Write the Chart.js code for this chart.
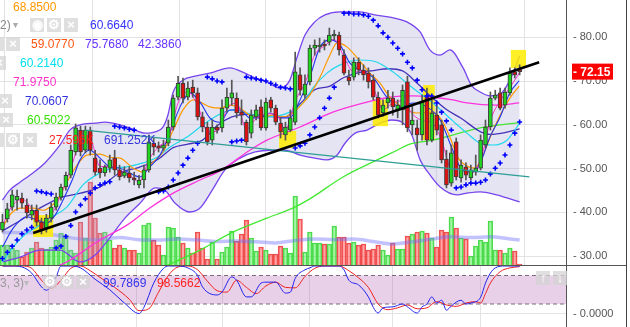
<!DOCTYPE html>
<html lang="en">
<head>
<meta charset="UTF-8">
<title>Price chart</title>
<script src="https://cdn.jsdelivr.net/npm/chart.js"></script>
<style>
  body { margin: 0; width: 630px; height: 327px; position: relative; overflow: hidden; background: #fff;
         font-family: 'Liberation Sans', Arial, sans-serif; }
  #main { position: absolute; left: 0; top: 0; }
  #stoch { position: absolute; left: 0; top: 265px; }
  .t { position: absolute; font-size: 12px; line-height: 14px; white-space: nowrap; }
  .ic { position: absolute; width: 14px; height: 14px; background: rgba(212,212,212,0.75); color: #fff;
        font-size: 13px; line-height: 14px; text-align: center; font-weight: bold; }
  .hl { position: absolute; background: #555; }
</style>
</head>
<body>
<canvas id="main" width="630" height="265"></canvas>
<canvas id="stoch" width="630" height="62"></canvas>
<div class="hl" style="left:0; top:265px; width:627px; height:1px"></div>
<div class="hl" style="left:626px; top:0; width:1px; height:327px; background:#444"></div>

<!-- indicator read-outs -->
<span class="t" style="left:13px; top:0; color:#ff9900">68.8500</span>
<span class="t" style="left:0; top:18px; color:#888">2)</span>
<span class="t" style="left:13px; top:18px; color:#aaa; font-size:10px">&#9662;</span>
<div class="ic" style="left:30px; top:18px">&#9673;</div>
<div class="ic" style="left:47px; top:18px">&#9881;</div>
<div class="ic" style="left:64px; top:18px">&#215;</div>
<span class="t" style="left:90px; top:18px; color:#3333ff">60.6640</span>
<div class="ic" style="left:-10px; top:37px">&#215;</div>
<div class="ic" style="left:6px; top:37px">&#215;</div>
<span class="t" style="left:31px; top:37px; color:#ff5511">59.0770</span>
<span class="t" style="left:85px; top:37px; color:#6633ff">75.7680</span>
<span class="t" style="left:138px; top:37px; color:#6633ff">42.3860</span>
<div class="ic" style="left:-8px; top:56px">&#215;</div>
<span class="t" style="left:20px; top:56px; color:#00e0ee">60.2140</span>
<span class="t" style="left:13px; top:75px; color:#ff33cc">71.9750</span>
<div class="ic" style="left:-2px; top:94px">&#215;</div>
<span class="t" style="left:25px; top:94px; color:#3333dd">70.0607</span>
<div class="ic" style="left:-1px; top:113px">&#215;</div>
<span class="t" style="left:27px; top:113px; color:#33e000">60.5022</span>
<div class="ic" style="left:-10px; top:133px">&#215;</div>
<div class="ic" style="left:6px; top:133px">&#9881;</div>
<div class="ic" style="left:23px; top:133px">&#215;</div>
<span class="t" style="left:49px; top:133px; color:#ff2222">27.596K</span>
<span class="t" style="left:104px; top:133px; color:#3333dd">691.252K</span>

<span class="t" style="left:0; top:276px; color:#999">3, 3)</span>
<span class="t" style="left:24px; top:276px; color:#bbb; font-size:10px">&#9662;</span>
<div class="ic" style="left:43px; top:275px">&#9881;</div>
<div class="ic" style="left:60px; top:275px">&#9881;</div>
<div class="ic" style="left:76px; top:275px">&#215;</div>
<span class="t" style="left:103px; top:276px; color:#3333ee">99.7869</span>
<span class="t" style="left:157px; top:276px; color:#ff2222">98.5662</span>
<div class="ic" style="left:536px; top:271px">&#8593;</div>
<div class="ic" style="left:553px; top:271px">&#8595;</div>

<script>
// candles (index = bar number)
const opens  = [36.0,38.5,41.2,42.8,43.3,41.7,39.4,40.5,37.8,36.4, 38.7,41.2,43.5,45.8,48.5,53.8,58.8,54.2,58.8,52.4,
                50.1,49.0,50.1,52.4,49.7,48.3,49.0,47.9,46.3,47.4, 49.7,55.8,55.2,54.7,55.8,59.5,66.3,69.5,66.3,68.6,
                67.3,61.8,59.5,56.5,59.5,59.3,63.8,66.1,66.1,62.9, 60.6,58.1,61.8,64.1,59.3,65.7,63.8,60.4,57.7,58.8,
                60.6,71.4,66.8,69.8,77.5,77.8,78.4,78.9,80.3,80.5, 75.9,70.9,70.9,74.3,72.5,71.8,70.2,66.3,62.7,65.0,
                66.1,63.4,63.4,69.8,60.0,59.3,57.7,66.8,56.5,62.2, 60.0,52.2,46.7,56.1,47.9,50.4,47.9,49.2,50.1,55.4,
                59.5,66.1,67.3,64.5,67.3,72.1,72.6];
const highs  = [39.6,42.1,45.1,45.1,44.4,43.1,41.7,41.7,38.7,39.6, 42.1,44.4,46.5,49.2,55.4,60.2,59.7,59.7,59.5,54.2,
                52.0,50.8,53.1,54.2,50.8,50.4,50.4,49.2,48.5,50.8, 57.7,57.0,56.1,56.5,61.1,66.8,71.1,70.7,69.8,70.2,
                68.4,62.9,60.6,61.1,60.0,65.7,68.4,70.2,67.3,65.7, 61.1,63.4,64.5,65.7,66.1,66.3,64.5,61.6,60.6,63.4,
                76.6,73.0,71.4,78.2,79.4,79.8,79.4,82.1,81.6,81.2, 77.1,72.5,75.3,75.3,73.7,73.0,71.4,67.5,65.7,67.9,
                67.5,65.7,69.1,71.1,64.5,61.1,66.8,68.4,65.7,64.5, 61.1,54.2,55.4,57.0,52.0,51.3,50.8,53.1,57.7,61.1,
                67.5,67.9,68.4,68.4,73.0,73.0,73.7];
const lows   = [35.5,37.8,40.5,40.5,41.0,38.7,38.3,36.9,35.1,35.5, 37.8,40.5,42.8,45.1,47.9,53.1,52.9,53.6,53.1,48.5,
                47.9,48.3,49.2,48.5,47.4,47.9,46.9,46.3,45.6,45.6, 49.2,53.1,53.8,54.2,55.2,58.8,65.7,65.0,65.7,66.3,
                61.1,58.4,55.4,55.4,58.1,58.4,62.9,64.5,61.6,60.0, 55.4,57.0,61.1,58.8,58.8,62.9,60.0,57.0,56.5,58.4,
                60.0,66.8,66.1,69.1,75.9,76.6,77.1,78.2,79.4,75.9, 71.4,69.1,70.2,71.4,70.2,68.4,65.7,61.6,62.0,63.8,
                62.2,61.6,60.0,58.4,57.7,54.2,56.5,55.4,56.1,57.7, 51.3,45.6,46.0,47.4,46.9,47.4,47.4,48.5,49.7,54.7,
                58.8,65.7,63.4,63.8,66.8,70.7,71.4];
const closes = [37.8,40.8,44.0,43.7,42.1,39.9,40.5,37.8,36.0,38.7, 41.2,43.5,45.8,48.5,54.2,59.3,53.8,58.8,54.2,49.2,
                49.0,50.4,52.0,49.7,48.1,49.2,47.9,47.4,47.4,49.7, 56.1,54.9,54.7,55.4,59.5,66.1,69.5,66.1,68.4,67.3,
                61.8,59.5,56.1,59.5,58.8,63.8,66.3,67.3,62.7,62.2, 56.1,62.2,63.4,59.3,65.2,63.8,60.6,58.4,59.5,61.6,
                72.1,67.9,69.3,77.5,78.2,78.2,78.0,80.5,80.7,77.1, 71.8,70.0,74.3,72.5,71.4,69.8,66.3,62.2,64.5,66.1,
                64.1,64.5,67.9,59.3,61.1,57.7,65.2,56.5,62.7,58.8, 52.0,46.3,53.6,48.1,50.8,48.5,49.7,50.1,56.5,59.5,
                66.1,66.8,63.8,67.5,71.8,71.4,72.15];
// volume in thousands
const volumes = [553,553,470,415,221,359,470,636,470,442, 498,691,885,830,415,332,1189,747,2295,1300,
                 885,912,691,470,553,470,415,415,332,1106, 1161,691,553,277,1051,1023,774,608,470,332,
                 912,470,166,636,166,359,498,940,664,857, 1244,747,387,498,415,304,304,525,470,332,
                 1908,1272,359,912,608,608,581,581,1078,774, 774,608,636,553,581,415,442,553,415,277,
                 608,442,442,802,857,912,940,885,747,498, 968,912,1327,1023,747,720,249,525,691,636,
                 1217,415,415,332,470,387,28];
const volumeAvg = [[0,900],[8,880],[12,800],[16,720],[20,700],[24,760],[28,700],[32,690],[36,720],[40,690],[44,650],
                   [48,660],[52,640],[56,610],[60,680],[64,720],[68,700],[72,720],[76,650],[80,580],[84,640],[88,720],
                   [92,780],[96,760],[100,780],[104,720],[106,690]];

// overlays as [bar, price]
const bbUpper = [[0,42.8],[1.5,45.1],[3.6,46.9],[5.6,48.5],[8.7,51.3],[11.8,55.4],[13.8,58.8],[15.9,60.0],[19,60.4],
                 [21,60.6],[24.1,60.0],[27.2,58.8],[29.2,58.1],[31.3,58.4],[32.9,59.5],[33.9,62.2],[35,67.5],[37,70.2],
                 [39.5,71.1],[42.5,71.8],[46.6,73.0],[49.7,71.8],[51.8,70.7],[54.2,69.8],[56.9,68.4],[58.9,70.2],
                 [60.4,75.5],[62,80.5],[64,83.5],[66.1,85.1],[69.2,85.8],[73.3,85.8],[76.3,85.1],[79.4,84.6],
                 [82.9,83.5],[85.6,81.2],[87.6,77.1],[89.7,75.9],[91.7,77.1],[94.4,73.0],[96.2,68.9],[97.9,67.5],
                 [99.9,66.6],[102,67.0],[104,70.2],[106,75.77]];
const bbLower = [[0,28.7],[3.6,29.8],[7.7,31.4],[11.8,31.4],[15.9,28.7],[19,30.3],[22,34.2],[25.1,38.7],[28.2,42.1],
                 [31.3,45.6],[33.3,45.1],[35.4,42.1],[38.4,40.1],[40.5,41.0],[43,45.1],[45.6,49.7],[48.7,52.4],
                 [51.8,53.8],[54.8,54.2],[57.9,54.2],[61,53.1],[64,52.4],[66.5,52.0],[68.6,53.1],[70.2,55.8],
                 [72.3,58.1],[74.7,58.8],[77.4,60.4],[79.8,61.1],[81.9,60.6],[83.9,57.7],[85.6,52.0],[87.2,49.2],
                 [89.7,45.8],[93.2,44.0],[95.2,44.4],[97.9,44.7],[101.3,44.0],[103.4,43.3],[106,42.39]];
const bbMiddle = [[0,35.8],[4,38.4],[8,41.2],[12,43.4],[16,44.4],[20,45.8],[24,49.0],[28,50.3],[32,52.2],[35,54.8],
                  [38,55.6],[41,56.5],[44,59.8],[47,61.8],[50,62.4],[54,62.0],[58,61.8],[61,64.8],[64,68.0],[67,68.8],
                  [70,70.8],[73,71.9],[76,72.4],[79,72.8],[82,72.3],[85,69.5],[88,66.3],[91,63.5],[94,61.5],[98,58.4],
                  [100,57.8],[103,58.2],[106,59.077]];
const orangeLine = [[0,36.4],[1.5,39.4],[3.6,41.0],[6.3,41.0],[8.3,40.5],[9.7,41.2],[11.2,42.8],[13.2,46.9],[15.3,50.8],
                    [17.3,53.1],[20,53.3],[22,52.6],[24.1,52.4],[26.8,50.1],[28.8,49.2],[30.9,51.5],[32.9,53.8],
                    [35,58.8],[37,63.4],[39.1,65.7],[40.5,65.2],[42.5,64.1],[44.6,63.8],[46.6,64.5],[48.7,63.8],
                    [50.7,62.2],[53.4,61.8],[55.4,62.2],[57.5,61.8],[59.5,62.7],[61.6,65.0],[63,66.8],[65.1,70.9],
                    [67.1,75.9],[68.6,78.7],[70.6,77.8],[72.7,75.3],[75.3,71.8],[77.4,69.5],[79.4,66.3],[82.9,63.4],
                    [85,62.7],[88.2,62.9],[90.3,60.6],[92.1,56.1],[93.4,52.4],[95.2,50.6],[96.8,50.1],[98.5,53.1],
                    [100.3,58.1],[102,62.2],[104,66.1],[105.9,68.85]];
const cyanLine = [[0,28.7],[2.2,32.1],[5,35.3],[7.1,36.7],[9.7,38.7],[13.2,41.2],[16.5,46.3],[20,49.0],[22.7,50.1],
                  [25.5,50.4],[28.8,51.3],[31.7,52.6],[34.3,54.9],[37.8,57.2],[40.5,59.5],[42.5,61.1],[47.2,63.4],
                  [50.7,62.5],[54.2,61.8],[58.9,62.9],[61.6,65.0],[63.6,68.4],[66.5,71.8],[69.2,73.7],[73.3,74.8],
                  [76.8,74.3],[80,72.1],[84.1,68.4],[88.2,65.0],[92.3,60.9],[95.2,58.1],[97.9,55.8],[100.5,55.4],
                  [103.4,56.5],[105.9,60.21]];
const blueLine = [[0,32.1],[2.2,36.4],[5,39.0],[7.1,38.3],[9.1,37.6],[10.8,39.4],[12.4,42.8],[14.3,47.4],[15.9,52.0],
                  [17.9,54.2],[20,52.4],[22,50.4],[24.1,50.1],[26.1,49.0],[28.2,48.1],[30.2,50.4],[32.3,53.1],
                  [34.3,58.1],[36.4,64.1],[38.4,67.3],[40.5,65.2],[42.5,61.6],[44.6,60.6],[46.6,63.4],[48.7,63.4],
                  [50.7,61.6],[52.8,61.6],[54.8,62.7],[56.9,61.6],[58.9,61.6],[61,65.7],[63,70.9],[65.1,77.8],
                  [67.1,79.4],[69.2,78.2],[71.2,74.1],[73.3,72.5],[75.9,70.9],[78.8,66.3],[81.5,64.1],[84.1,65.0],
                  [87,64.1],[89.7,61.1],[92.3,54.2],[94.2,49.7],[96.2,49.2],[97.9,51.3],[99.9,57.2],[102,61.8],
                  [104,67.3],[105.9,70.06]];
const pinkFast = [[0,37.0],[2,41.5],[4,43.0],[6,41.0],[8,37.5],[10,39.5],[12,44.0],[14,50.0],[16,56.0],[18,56.5],
                  [20,50.5],[22,50.5],[24,49.5],[26,48.5],[28,47.0],[30,52.0],[32,55.0],[34,57.0],[36,65.0],[38,67.5],
                  [40,64.5],[42,58.5],[44,58.5],[46,63.5],[48,65.0],[50,59.0],[52,61.5],[54,62.5],[56,62.5],[58,59.0],
                  [60,65.5],[62,69.5],[64,76.0],[66,78.0],[68,79.5],[70,75.5],[72,72.0],[74,72.5],[76,68.5],[78,63.5],
                  [80,65.0],[82,65.5],[84,62.5],[86,61.0],[88,60.5],[90,56.5],[92,50.0],[94,50.0],[96,49.0],[98,52.0],
                  [100,61.0],[102,65.5],[104,68.5],[106,71.975]];
const pinkSlow = [[9,27.0],[11.8,28.0],[13.2,28.7],[20,33.7],[25.5,37.1],[30.2,41.0],[35,44.4],[40.5,47.4],[44.6,49.5],
                  [50.7,54.2],[54.2,56.5],[61,59.5],[67.7,62.9],[74.7,65.2],[79.4,66.3],[84.1,66.6],[88.2,66.3],
                  [92.3,65.7],[95.2,65.0],[101.3,64.5],[105.9,65.0]];
const greenLine = [[30.2,26.4],[34.3,28.2],[40.5,31.4],[47.2,35.5],[54.2,38.7],[59.5,41.0],[63,43.1],[69.8,48.1],
                   [76.8,52.0],[80.9,54.2],[83.5,55.6],[88.2,56.5],[97.9,59.3],[105.9,60.5]];
const sarValues = [29.5,30.9,32.3,33.7,35.1,36.0,36.6, 44.9,44.7,44.4,44.2,
                   31.9,32.3,34.5,37.0,40.1,41.7,43.1,44.4,45.6,46.3,46.7,47.0,
                   59.7,59.5,59.3,59.0,58.8, null,null,null,null,
                   44.7,44.9,45.8,47.4,49.0,50.8,52.4,54.2,55.8, null,
                   70.9,70.5,70.0,69.8, null, 56.1,56.3,56.5,
                   70.9,70.7,70.5,70.2,70.0,69.5,69.1,68.6,68.4,68.2,
                   54.7,55.2,55.8,57.7,59.5,61.6,63.8,66.1,68.6, null,
                   85.5,85.5,85.3,85.3,85.1,84.8,83.9,82.6,81.0,80.0,78.7,77.5,76.2,74.3,73.0,70.2,68.0,66.6,66.6,
                   65.0,62.9,60.9,58.8,
                   45.6,45.8,46.3,46.7,46.7,46.9,47.4,48.8,50.1,51.3,53.1,55.4,58.1,60.66];
const trendBlack = [[6.3,35.3],[110,74.3]];
const trendTeal = [[16.9,58.8],[108,48.1]];
// highlighted zones: [from bar, to bar, low, high]
const yellowBoxes = [[6.3,10.4,34.4,39.4],[56.7,60.2,54.7,58.6],[75.9,79,59.7,65.7],[86.2,88.6,56.5,69.1],[104.2,107.3,73.0,77.1]];

// stochastic panel
const stochK = [[0,100],[2,100],[4,98],[6,85],[8,56],[9,49],[11,77],[12,100],[14,100],[16,96],[19,72],[22,50],[25,22],
                [28,0],[29,13],[31,64],[33,95],[34,100],[36,100],[38,96],[40,80],[41,56],[44,39],[45,45],[47,77],[48,70],
                [50,35],[51,35],[53,64],[54,66],[56,66],[58,43],[59,45],[60,74],[62,92],[63,96],[64,100],[69,100],
                [70,92],[71,70],[73,60],[75,35],[76,13],[77,1],[78,12],[80,14],[82,20],[83,14],[85,1],[86,14],[87,20],
                [88,35],[89,22],[90,28],[91,7],[92,16],[94,28],[95,20],[96,22],[98,34],[99,64],[100,85],[101,96],
                [103,100],[106,99.79]];
const stochD = [[0,100],[4,100],[6,95],[8,70],[10,53],[12,70],[14,95],[16,100],[18,90],[20,76],[23,55],[26,30],[28,6],
                [30,10],[32,45],[34,80],[36,98],[38,100],[40,92],[42,68],[44,48],[46,45],[48,70],[50,55],[52,42],
                [54,58],[56,66],[58,55],[60,54],[62,78],[64,95],[66,100],[69,100],[71,90],[73,75],[75,55],[77,20],
                [79,8],[81,12],[83,18],[85,10],[87,12],[89,25],[91,18],[93,15],[95,22],[97,25],[98,22],[99,42],
                [100,64],[102,88],[104,96],[106,98.57]];
const stochLevels = [80, 20];

const priceTicks = [30, 40, 50, 60, 70, 80];
const dateLines = [9.5, 27.5, 45, 63, 80, 98];
const slots = 116; // bars plus empty space on the right

Chart.defaults.font.family = "'Liberation Sans', Arial, sans-serif";

const pts = arr => arr.map(([x, y]) => ({ x, y }));
const up = i => closes[i] >= opens[i];

function line(label, data, color, width, order, extra) {
  return Object.assign({ type: 'line', label, data: pts(data), borderColor: color, borderWidth: width,
    pointRadius: 0, cubicInterpolationMode: 'monotone', fill: false, order }, extra || {});
}

const xAxis = () => ({
  type: 'linear', min: -0.5, max: slots - 0.5, offset: false,
  afterBuildTicks: s => { s.ticks = dateLines.map(v => ({ value: v })); },
  ticks: { display: false },
  grid: { color: '#e3e3e3', drawTicks: false },
  border: { display: false },
  afterFit: s => { s.height = 0; }
});

const zonePlugin = {
  id: 'zones',
  afterDatasetDraw(chart, args) {
    if (chart.data.datasets[args.index].label !== 'BB lower') return;
    const { ctx, scales: { x, y } } = chart;
    ctx.save();
    ctx.fillStyle = 'rgba(255,236,0,0.85)';
    yellowBoxes.forEach(([a, b, lo, hi]) => {
      const x0 = x.getPixelForValue(a), x1 = x.getPixelForValue(b);
      const y0 = y.getPixelForValue(hi), y1 = y.getPixelForValue(lo);
      ctx.fillRect(x0, y0, x1 - x0, y1 - y0);
    });
    ctx.restore();
  }
};

const lastPricePlugin = {
  id: 'lastPrice',
  afterDraw(chart) {
    const { ctx, chartArea, scales: { y } } = chart;
    const last = closes[closes.length - 1];
    const py = y.getPixelForValue(last);
    ctx.save();
    ctx.fillStyle = '#ff0000';
    ctx.fillRect(chartArea.right + 6, py - 8, 41, 16);
    ctx.fillStyle = '#fff';
    ctx.font = "bold 12px 'Liberation Sans', Arial, sans-serif";
    ctx.textBaseline = 'middle';
    ctx.fillText('- ' + last.toFixed(2), chartArea.right + 7, py + 1);
    ctx.restore();
  }
};

new Chart(document.getElementById('main'), {
  type: 'line',
  data: {
    datasets: [
      { type: 'bar', label: 'Volume', yAxisID: 'yv', grouped: false, order: 30, barThickness: 4.7,
        data: volumes.map((v, i) => ({ x: i, y: v })),
        backgroundColor: c => up(c.dataIndex) ? 'rgba(60,235,60,0.45)' : 'rgba(255,80,80,0.5)',
        borderColor: c => up(c.dataIndex) ? 'rgba(50,210,50,0.85)' : 'rgba(235,60,60,0.9)',
        borderWidth: 1 },
      line('Volume avg', volumeAvg, 'rgba(110,110,255,0.42)', 3.5, 29, { yAxisID: 'yv' }),
      line('BB upper', bbUpper, '#7744ee', 1.3, 28, { fill: '+1', backgroundColor: 'rgba(165,165,215,0.3)' }),
      line('BB lower', bbLower, '#7744ee', 1.3, 27),
      line('Slow MA', greenLine, '#44e833', 1.3, 20),
      line('Slow pink', pinkSlow, '#ff33dd', 1.3, 19),
      line('BB middle', bbMiddle, '#4433bb', 1.3, 18),
      line('Cyan', cyanLine, '#22d8ee', 1.2, 17),
      line('Orange', orangeLine, '#ff9900', 1.2, 16),
      line('Blue', blueLine, '#2233ee', 1.1, 15),
      line('Pink fast', pinkFast, '#ff33cc', 1, 14),
      { type: 'bar', label: 'Wick', grouped: false, order: 8, barThickness: 1,
        data: closes.map((c, i) => ({ x: i, y: [lows[i], highs[i]] })), backgroundColor: '#555' },
      { type: 'bar', label: 'Body', grouped: false, order: 7, barThickness: 4, minBarLength: 1,
        data: closes.map((c, i) => ({ x: i, y: [opens[i], c] })),
        backgroundColor: c => up(c.dataIndex) ? '#1fd31f' : '#e01010',
        borderColor: '#3a3a3a', borderWidth: 1, borderSkipped: false },
      { type: 'line', label: 'SAR', order: 5, showLine: false,
        data: sarValues.map((v, i) => v == null ? null : { x: i, y: v }).filter(p => p),
        pointStyle: 'cross', pointRadius: 2.5, borderColor: '#0000ff', pointBorderWidth: 1.6 },
      line('Teal trend', trendTeal, '#2e9e94', 1.2, 3, { cubicInterpolationMode: 'default', tension: 0 }),
      line('Black trend', trendBlack, '#000', 2.5, 2, { cubicInterpolationMode: 'default', tension: 0 })
    ]
  },
  options: {
    responsive: false, animation: false,
    layout: { padding: 0, autoPadding: false },
    plugins: { legend: { display: false }, tooltip: { enabled: false } },
    scales: {
      x: xAxis(),
      y: {
        position: 'right', min: 28, max: 88.5,
        afterBuildTicks: s => { s.ticks = priceTicks.map(v => ({ value: v })); },
        ticks: { callback: v => '- ' + v.toFixed(2), color: '#555', font: { size: 11 }, padding: 7 },
        grid: { color: '#e3e3e3', drawTicks: false },
        border: { color: '#555' },
        afterFit: s => { s.width = 64; s.paddingTop = 0; s.paddingBottom = 0; }
      },
      yv: { display: false, min: 0, max: 7325 }
    }
  },
  plugins: [zonePlugin, lastPricePlugin]
});

new Chart(document.getElementById('stoch'), {
  type: 'line',
  data: {
    datasets: [
      line('Upper level', [[-0.5, stochLevels[0]], [slots - 0.5, stochLevels[0]]], '#7a6a7a', 1, 10,
        { borderDash: [4, 3], fill: '+1', backgroundColor: 'rgba(180,100,180,0.3)', cubicInterpolationMode: 'default' }),
      line('Lower level', [[-0.5, stochLevels[1]], [slots - 0.5, stochLevels[1]]], '#7a6a7a', 1, 9,
        { borderDash: [4, 3], cubicInterpolationMode: 'default' }),
      line('%D', stochD, '#ee2020', 1, 2),
      line('%K', stochK, '#2222ee', 1, 1)
    ]
  },
  options: {
    responsive: false, animation: false,
    layout: { padding: 0, autoPadding: false },
    plugins: { legend: { display: false }, tooltip: { enabled: false } },
    scales: {
      x: xAxis(),
      y: {
        position: 'right', min: -28.4, max: 102.1,
        afterBuildTicks: s => { s.ticks = [{ value: 0 }]; },
        ticks: { callback: v => '- ' + v.toFixed(4), color: '#555', font: { size: 11 }, padding: 7 },
        grid: { color: '#e3e3e3', drawTicks: false },
        border: { color: '#555' },
        afterFit: s => { s.width = 64; s.paddingTop = 0; s.paddingBottom = 0; }
      }
    }
  }
});
</script>
</body>
</html>
